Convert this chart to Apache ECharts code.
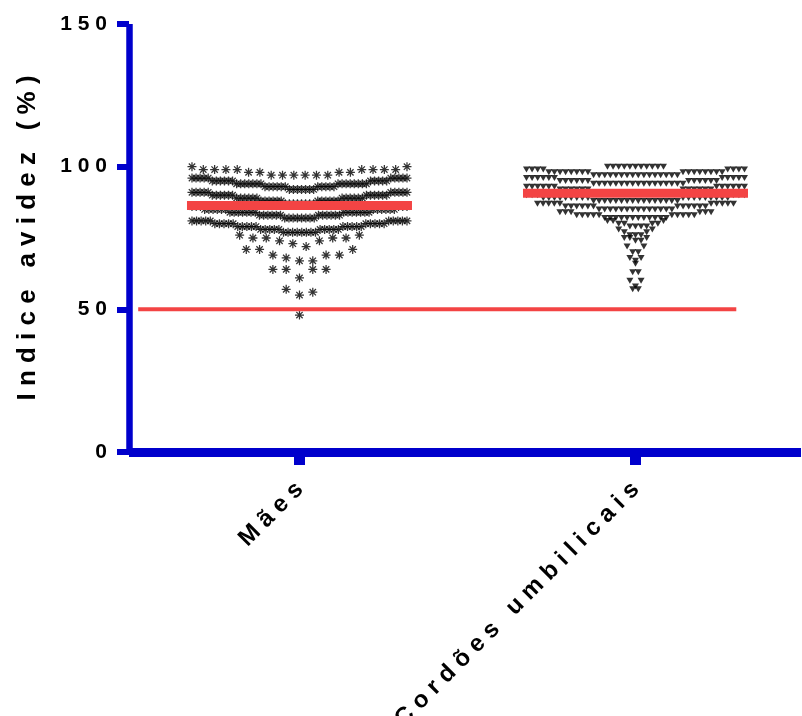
<!DOCTYPE html>
<html>
<head>
<meta charset="utf-8">
<script src="https://cdn.jsdelivr.net/npm/echarts@6/dist/echarts.min.js"></script>
<style>
  html, body { margin: 0; padding: 0; background: #ffffff; }
  #chart { width: 802px; height: 716px; }
</style>
</head>
<body>
<div id="chart"></div>
<script>
// Group names along the x axis
const categories = ['Mães', 'Cordões umbilicais'];
// Y axis ticks (avidity index, %)
const yTicks = [0, 50, 100, 150];

// Avidity index per subject, grouped in horizontal bins of the dot plot
const maesBins = [
  [97,97,97,97,97,97,98,98,98,98,99,99,99,99,99,99,99,99,100,100],
  [92,92,92,92,92,92,92,93,93,93,93,93,93,93,93,93,93,93,94,94,94,94,94,94,94,94,94,94,94,94,94,94,94,95,95,95,95,95,95,95,95,95,95,95,96,96,96,96,96,96,96,96,96,96],
  [87,87,87,87,87,87,87,87,88,88,88,88,88,88,88,88,88,88,88,88,89,89,89,89,89,89,89,89,89,89,89,89,90,90,90,90,90,90,90,90,90,90,90,90,91,91,91,91,91,91,91,91,91,91],
  [82,82,82,82,82,82,82,82,83,83,83,83,83,83,83,83,83,83,83,83,84,84,84,84,84,84,84,84,84,84,84,84,84,84,85,85,85,85,85,85,85,85,85,85,85,85,86,86,86,86,86,86],
  [77,77,77,77,77,77,77,77,78,78,78,78,78,78,78,78,78,78,79,79,79,79,79,79,79,79,79,79,80,80,80,80,80,80,80,80,80,80,81,81,81,81,81,81,81,81,81,81],
  [72,73,74,74,75,75,75,75,76,76],
  [67,67,68,69,69,69,71,71,71],
  [61,64,64,64,64],
  [55,56,57],
  [48]
];

const cordoesBins = [
  [100,100,100,100,100,100,100,100,100,100,100],
  [97,97,97,97,97,97,97,97,97,97,97,97,97,97,97,97,98,98,98,98,98,98,98,98,98,98,98,98,98,98,98,98,99,99,99,99,99,99,99,99],
  [94,94,94,94,94,94,94,94,94,94,94,94,94,94,94,94,94,95,95,95,95,95,95,95,95,95,95,95,95,96,96,96,96,96,96,96,96,96,96,96],
  [91,91,91,91,91,91,91,91,91,91,91,91,91,91,91,91,92,92,92,92,92,92,92,92,92,92,92,92,93,93,93,93,93,93,93,93,93,93,93,93],
  [88,88,88,88,88,88,88,88,88,88,88,88,88,88,88,88,89,89,89,89,89,89,89,89,89,89,89,89,89,89,89,89,89,89,90,90,90,90,90,90],
  [85,85,85,85,85,85,85,85,85,85,85,85,85,85,86,86,86,86,86,86,86,86,86,86,86,86,87,87,87,87,87,87,87,87,87,87],
  [82,82,82,82,82,82,82,82,82,82,82,82,83,83,83,83,83,83,83,83,83,83,84,84,84,84,84,84],
  [79,79,79,79,80,80,80,80,81,81,81],
  [76,76,76,77,77,78,78],
  [74,74,75,75,75],
  [70,70,72,72],
  [67,68,68],
  [66],
  [63,63],
  [58,60,60],
  [57,57]
];

// Horizontal line per group (central value) and the cut-off line
const centerValues = [86.4, 90.7];
const cutoffValue = 50;

// ---- layout ----
const GRID = { left: 129, top: 24, width: 672, height: 428, containLabel: false, outerBoundsMode: 'none' };
const X_MIN = -0.5074, X_MAX = X_MIN + 2;
const PX_PER_UNIT = GRID.width / (X_MAX - X_MIN);
const BLUE = '#0000cc';
const RED = '#f34444';
const FONT = '"Liberation Sans", Arial, Helvetica, sans-serif';

// Spread each bin sideways: lowest values in the middle, highest at the edges
function spreadBins(bins, center, stepPx, maxSpanPx) {
  const pts = [];
  bins.forEach(bin => {
    const vals = bin.slice().sort((a, b) => a - b);
    const n = vals.length;
    const s = n > 1 ? Math.min(stepPx, maxSpanPx / (n - 1)) : 0;
    const slots = [];
    for (let k = 0; k < n; k++) slots.push((k - (n - 1) / 2) * s);
    slots.sort((a, b) => (Math.abs(a) - Math.abs(b)) || (b - a));
    vals.forEach((v, i) => pts.push([center + slots[i] / PX_PER_UNIT, v]));
  });
  return pts;
}

const maesPts = spreadBins(maesBins, 0, 13.3, 215);
const cordoesPts = spreadBins(cordoesBins, 1, 5.6, 218);

const spaced = s => s.split('').join(' ');

// eight-armed asterisk
const ASTERISK = 'path://M8.6 0H11.4V20H8.6Z M0 8.6H20V11.4H0Z ' +
  'M3.92 1.94L18.06 16.08L16.08 18.06L1.94 3.92Z ' +
  'M18.06 3.92L3.92 18.06L1.94 16.08L16.08 1.94Z';
const TRI_DOWN = 'path://M0 0L10 0L5 8.66Z';

const halfLine = 112.5 / PX_PER_UNIT;
const lineSeries = centerValues.map((v, i) => ({
  type: 'line',
  data: [[i - halfLine, v], [i + halfLine, v]],
  symbol: 'none',
  lineStyle: { color: RED, width: 9, cap: 'butt' },
  z: 5,
  silent: true
}));

const chart = echarts.init(document.getElementById('chart'), null, { renderer: 'canvas' });
chart.setOption({
  animation: false,
  backgroundColor: '#ffffff',
  grid: GRID,
  xAxis: {
    type: 'value',
    min: X_MIN,
    max: X_MAX,
    splitLine: { show: false },
    axisLine: { show: true, onZero: false, lineStyle: { color: BLUE, width: 9, cap: 'butt' } },
    axisTick: {
      show: true, customValues: [0, 1], length: 13,
      lineStyle: { color: BLUE, width: 11 }
    },
    axisLabel: {
      show: true,
      customValues: [0, 1],
      rotate: 45,
      margin: 34,
      formatter: v => spaced(categories[Math.round(v)]),
      color: '#000',
      fontFamily: FONT,
      fontWeight: 'bold',
      fontSize: 24
    }
  },
  yAxis: {
    type: 'value',
    min: 0,
    max: 150,
    interval: 50,
    splitLine: { show: false },
    axisLine: { show: true, onZero: false, lineStyle: { color: BLUE, width: 6.5, cap: 'butt' } },
    axisTick: { show: true, length: 12, lineStyle: { color: BLUE, width: 6 } },
    axisLabel: {
      margin: 22,
      formatter: v => yTicks.includes(v) ? spaced(String(v)) : '',
      color: '#000',
      fontFamily: FONT,
      fontWeight: 'bold',
      fontSize: 21
    },
    name: spaced('Indice avidez (%)'),
    nameLocation: 'middle',
    nameGap: 88,
    nameTextStyle: {
      color: '#000',
      fontFamily: FONT,
      fontWeight: 'bold',
      fontSize: 26
    }
  },
  series: [
    {
      type: 'scatter',
      data: maesPts,
      symbol: ASTERISK,
      symbolSize: 9,
      itemStyle: { color: '#000' },
      silent: true,
      z: 3
    },
    {
      type: 'scatter',
      data: cordoesPts,
      symbol: TRI_DOWN,
      symbolSize: [7, 6],
      itemStyle: { color: '#000' },
      silent: true,
      z: 3
    },
    ...lineSeries,
    {
      type: 'line',
      data: [[-0.48, cutoffValue], [1.30, cutoffValue]],
      symbol: 'none',
      lineStyle: { color: RED, width: 4 },
      z: 5,
      silent: true
    }
  ]
});
</script>
</body>
</html>
